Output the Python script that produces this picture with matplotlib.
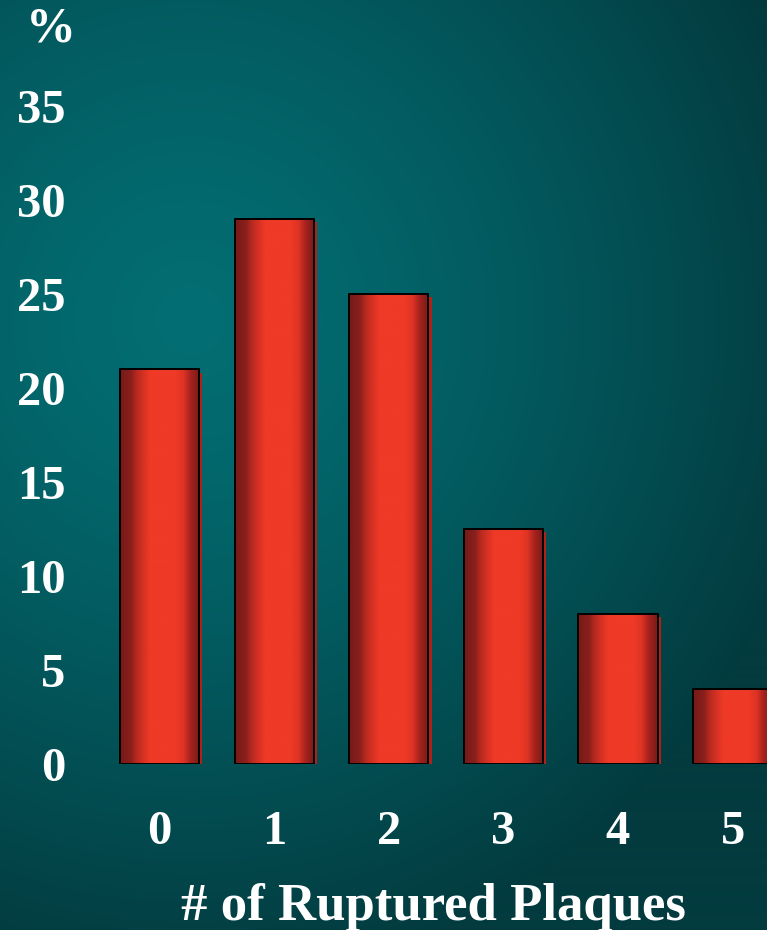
import numpy as np
import matplotlib
matplotlib.use("Agg")
import matplotlib.pyplot as plt
from matplotlib.colors import LinearSegmentedColormap, to_rgb
import matplotlib.patheffects as pe

categories = ["0", "1", "2", "3", "4", "5"]
values = [21, 29, 25, 12.5, 8, 4]
yticks = [0, 5, 10, 15, 20, 25, 30, 35]

W, H = 767, 930
fig = plt.figure(figsize=(W / 100, H / 100), dpi=100)

# background radial gradient
bg = fig.add_axes([0, 0, 1, 1])
bg.set_axis_off()
yy, xx = np.mgrid[0:H, 0:W]
cx, cy = 190, 320
d = np.sqrt(((xx - cx) / 640.0) ** 2 + ((yy - cy) / 660.0) ** 2)
t = np.clip(d, 0, 1) ** 1.35
light = np.array(to_rgb("#026e73"))
dark = np.array(to_rgb("#033b3f"))
img = light[None, None, :] * (1 - t[..., None]) + dark[None, None, :] * t[..., None]
bg.imshow(img, extent=[0, 1, 0, 1], aspect="auto", origin="upper")
bg.set_xlim(0, 1); bg.set_ylim(0, 1)

px0 = 159.5; spacing = 114.7; y0 = 764; upy = 18.8
xl, xr = -0.6, 5.30
yt = 38
left = px0 + xl * spacing
ax = fig.add_axes([left / W, (H - y0) / H, (W - left) / W, (yt * upy) / H])
ax.set_facecolor("none")
ax.set_xlim(xl, xr)
ax.set_ylim(0, yt)
for s in ax.spines.values():
    s.set_visible(False)

font = dict(family="Liberation Serif", weight="bold", color="white")

xs = np.arange(len(categories))
bw = 0.69
bars = ax.bar(xs, values, width=bw, color="#c02a20", edgecolor="none", zorder=2)
for b in bars:
    b.set_path_effects([pe.SimplePatchShadow(offset=(2.5, -2.5), shadow_rgbFace="#b02219", alpha=1.0), pe.Normal()])

cmap = LinearSegmentedColormap.from_list("cyl", [
    (0.0, "#761a18"), (0.14, "#8a201c"), (0.2, "#b4281f"), (0.3, "#d83224"), (0.38, "#ee3a26"),
    (0.7, "#ee3a26"), (0.8, "#dc3324"), (0.88, "#a8231e"), (1.0, "#761a18")])
grad = np.linspace(0, 1, 256)[None, :]
for b in bars:
    x0 = b.get_x(); w = b.get_width(); h = b.get_height()
    im = ax.imshow(grad, extent=[x0, x0 + w, 0, h], aspect="auto", cmap=cmap, zorder=3, interpolation="bilinear")
    im.set_clip_path(b)
    ax.add_patch(plt.Rectangle((x0, 0), w, h, facecolor="none", edgecolor="black", linewidth=1.4, zorder=4))
ax.set_xlim(xl, xr)
ax.set_ylim(0, yt)

ax.set_xticks(xs)
ax.set_xticklabels(categories, fontsize=35, **font)
ax.set_yticks(yticks)
ax.set_yticklabels([str(v) for v in yticks], fontsize=35, **font)
ax.tick_params(axis="x", length=0, pad=33)
ax.tick_params(axis="y", length=0, pad=18)

fig.text(51 / W, 1 - 30 / H, "%", ha="center", va="center", fontsize=36, **font)
fig.text(433 / W, 1 - 920 / H, "# of Ruptured Plaques", ha="center", va="baseline", fontsize=38, **font)

fig.savefig("out.png", dpi=100)
